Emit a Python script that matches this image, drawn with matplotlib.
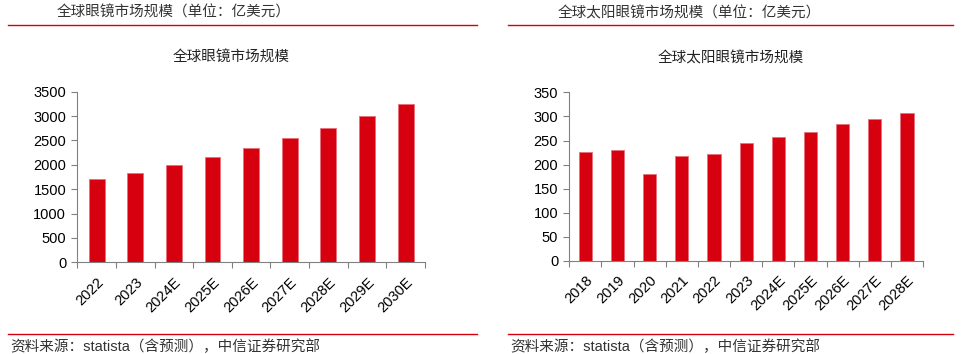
import matplotlib.pyplot as plt
import numpy as np

# 全球眼镜市场规模 (亿美元)
years_l = ['2022', '2023', '2024E', '2025E', '2026E', '2027E', '2028E', '2029E', '2030E']
vals_l = [1700, 1840, 2000, 2165, 2345, 2550, 2765, 3000, 3245]

# 全球太阳眼镜市场规模 (亿美元)
years_r = ['2018', '2019', '2020', '2021', '2022', '2023', '2024E', '2025E', '2026E', '2027E', '2028E']
vals_r = [226, 230, 181, 217, 223, 244, 257, 267, 284, 295, 307]

headers = ['全球眼镜市场规模（单位：亿美元）', '全球太阳眼镜市场规模（单位：亿美元）']
titles = ['全球眼镜市场规模', '全球太阳眼镜市场规模']
source = '资料来源：statista（含预测），中信证券研究部'

plt.rcParams['font.family'] = ['Liberation Sans', 'Noto Sans CJK SC']

RED = '#d7000f'
W, H = 961, 354

fig = plt.figure(figsize=(W / 100, H / 100), dpi=100)


def px(x, y):
    # pixel coords (top-left origin) -> figure fraction
    return x / W, 1 - y / H


def draw_bars(rect, cats, vals, ymax, step, title, title_x):
    ax = fig.add_axes(rect)
    x = np.arange(len(cats))
    ax.bar(x, vals, width=0.41, color=RED, edgecolor='#e8707a', linewidth=0.6)
    ax.set_xlim(-0.5, len(cats) - 0.5)
    ax.set_ylim(0, ymax)
    ax.set_yticks(np.arange(0, ymax + 1, step))
    # ticks between categories, labels centred under bars
    ax.set_xticks(np.arange(len(cats) + 1) - 0.5)
    ax.set_xticklabels([])
    ax.set_xticks(x, minor=True)
    ax.set_xticklabels(cats, minor=True, rotation=45, ha='right',
                       rotation_mode='anchor', fontsize=10.5)
    ax.tick_params(axis='x', which='minor', length=0, pad=9)
    ax.tick_params(axis='x', which='major', length=4, color='#808080', direction='out')
    ax.tick_params(axis='y', length=4, color='#808080', labelsize=10.5, pad=4)
    for s in ['top', 'right']:
        ax.spines[s].set_visible(False)
    for s in ['left', 'bottom']:
        ax.spines[s].set_color('#808080')
        ax.spines[s].set_linewidth(0.8)
    fx, fy = px(title_x, 58)
    fig.text(fx, fy, title, ha='center', va='center', fontsize=10.5, color='#222222')
    return ax


draw_bars([77.3 / W, 1 - 262.3 / H, (425 - 77.3) / W, (262.3 - 91.7) / H],
          years_l, vals_l, 3500, 500, titles[0], 231)
draw_bars([569.3 / W, 1 - 261 / H, (923 - 569.3) / W, (261 - 92.3) / H],
          years_r, vals_r, 350, 50, titles[1], 731)

# headers, separator lines and sources
for hx, (lx0, lx1), sx, txt in [(57, (8, 477), 10, headers[0]),
                                (558, (508, 953), 510, headers[1])]:
    fx, fy = px(hx, 13)
    fig.text(fx, fy, txt, ha='left', va='center', fontsize=10.5, color='#333333')
    for ly in (25.3, 334.3):
        x0, y0 = px(lx0, ly)
        x1, _ = px(lx1, ly)
        fig.add_artist(plt.Line2D([x0, x1], [y0, y0], color=RED, linewidth=1.0))
    fx, fy = px(sx, 347)
    fig.text(fx, fy, source, ha='left', va='center', fontsize=10.5, color='#333333')

fig.savefig('out.png', dpi=100)
